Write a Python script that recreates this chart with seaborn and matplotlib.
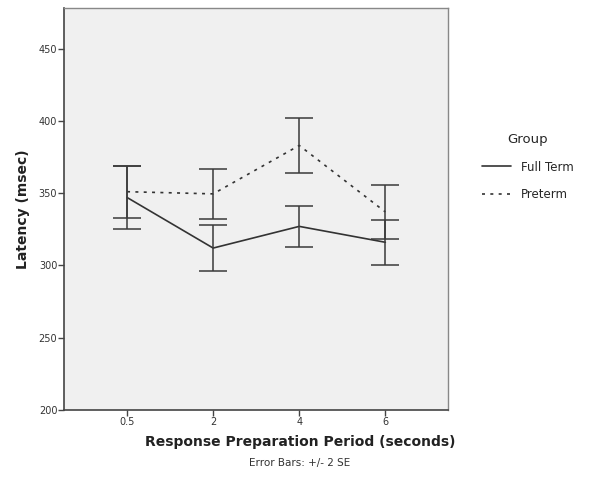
import pandas as pd
import seaborn as sns
import matplotlib.pyplot as plt
from matplotlib.lines import Line2D


# Data (means and +/- 2 SE half widths)
periods = ['0.5', '2', '4', '6']
full_term_mean = [347.0, 312.0, 327.0, 316.0]
full_term_err = [21.5, 16.0, 14.0, 15.5]
preterm_mean = [351.0, 349.5, 383.0, 337.0]
preterm_err = [18.0, 17.5, 19.0, 18.5]
groups = ['Full Term', 'Preterm']
y_ticks = [200, 250, 300, 350, 400, 450]

df = pd.DataFrame({
    'period': periods * 2,
    'latency': full_term_mean + preterm_mean,
    'err': full_term_err + preterm_err,
    'group': [groups[0]] * 4 + [groups[1]] * 4,
})

sns.set_style('white')
plt.rcParams['font.family'] = ['DejaVu Sans']

fig = plt.figure(figsize=(6, 4.8), dpi=100)
ax = fig.add_axes([0.107, 0.146, 0.64, 0.837])
ax.set_facecolor('#f0f0f0')

line_col = '#333333'
styles = {'Full Term': '-', 'Preterm': (0, (1.8, 3.2))}

sns.pointplot(data=df, x='period', y='latency', hue='group', order=periods,
              palette=[line_col, line_col], markers=['', ''], linestyles=['-', '-'],
              errorbar=None, ax=ax, legend=False)

# set dash pattern and linewidth for each series
for ln, g in zip(ax.lines, groups):
    ln.set_linestyle(styles[g])
    ln.set_linewidth(1.2)

# error bars
for g in groups:
    sub = df[df['group'] == g]
    xpos = [periods.index(p) for p in sub['period']]
    ax.errorbar(xpos, sub['latency'], yerr=sub['err'], fmt='none',
                ecolor='#3a3a3a', elinewidth=1.1, capsize=10, capthick=1.1)

ax.set_xlim(-0.73, 3.73)
ax.set_ylim(200, 478)
ax.set_yticks(y_ticks)
ax.tick_params(axis='both', direction='out', length=4, width=1, color='#444444',
               labelsize=7, labelcolor='#333333', pad=1, left=True, bottom=True)

for side in ['left', 'bottom']:
    ax.spines[side].set_color('#444444')
    ax.spines[side].set_linewidth(1.2)
for side in ['top', 'right']:
    ax.spines[side].set_color('#888888')
    ax.spines[side].set_linewidth(1.0)

ax.set_xlabel('')
ax.set_ylabel('Latency (msec)', fontsize=10, fontweight='bold', color='#222222', labelpad=6)

fig.text(0.5, 0.08, 'Response Preparation Period (seconds)', ha='center', va='center',
         fontsize=10, fontweight='bold', color='#222222')
fig.text(0.5, 0.035, 'Error Bars: +/- 2 SE', ha='center', va='center',
         fontsize=7.5, color='#333333')

handles = [Line2D([], [], color=line_col, lw=1.2, linestyle=styles[g]) for g in groups]
leg = fig.legend(handles, groups, title='Group', loc='center left',
                 bbox_to_anchor=(0.785, 0.652), frameon=False, fontsize=8.5,
                 title_fontsize=9.5, handlelength=2.5, labelspacing=1.2)

fig.savefig('out.png', dpi=100)
